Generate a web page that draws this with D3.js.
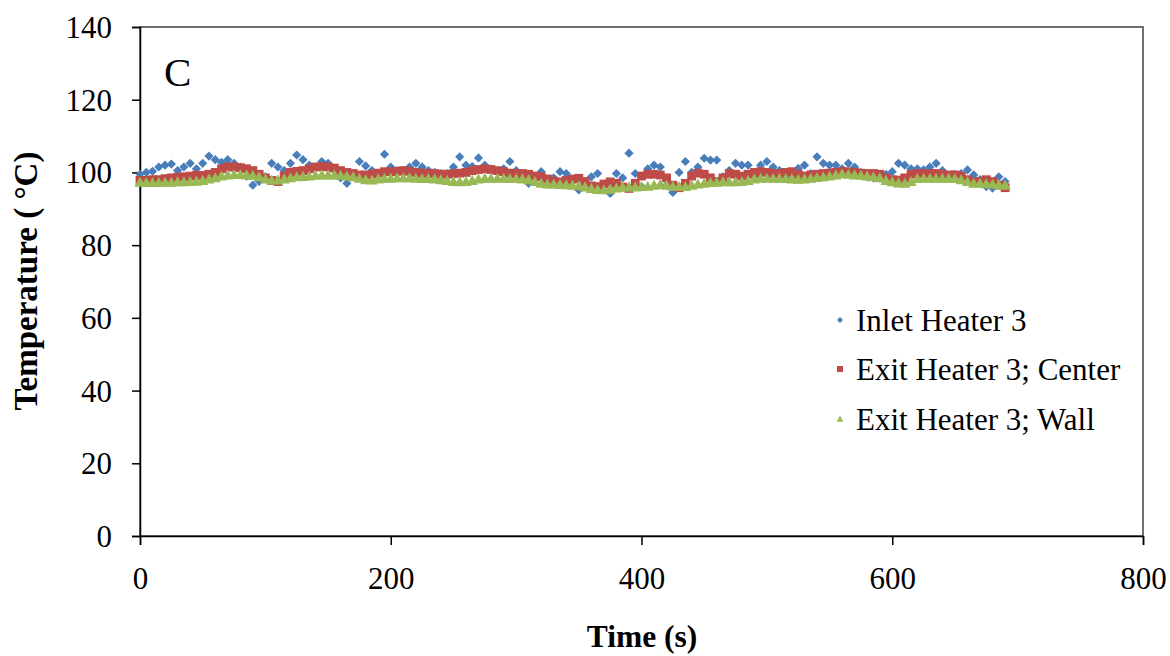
<!DOCTYPE html>
<html>
<head>
<meta charset="utf-8">
<script src="https://cdn.jsdelivr.net/npm/d3@7/dist/d3.min.js"></script>
<style>
  html, body { margin: 0; padding: 0; background: #fff; }
  svg { display: block; }
  text { font-family: "Liberation Serif", "Times New Roman", serif; fill: #000; }
</style>
</head>
<body>
<svg id="chart" width="1170" height="656"></svg>
<script>
// ---- data ----
const timeStep = 5;           // seconds between samples
const xTicks = [0, 200, 400, 600, 800];
const yTicks = [0, 20, 40, 60, 80, 100, 120, 140];
const seriesNames = ["Inlet Heater 3", "Exit Heater 3; Center", "Exit Heater 3; Wall"];

const inletHeater3 = [
  99.5, 100, 100.3, 101.5, 102, 102.3, 100.5, 101.5, 102.5, 101,
  102.5, 104.5, 103.5, 102.8, 103.5, 102.5, 101.5, 99, 96.5, 97.5,
  98.8, 102.5, 101.5, 100.5, 102.5, 104.8, 103.5, 102, 101.5, 103,
  102.5, 101, 98.5, 97, 99.5, 103, 101.8, 100.5, 99.8, 105,
  101.5, 100.5, 100.5, 101.5, 102.5, 101.5, 100.5, 100, 99.7, 99.7,
  101.5, 104.3, 102, 101.6, 104, 102, 101, 100.2, 101, 103,
  100.5, 98.5, 97, 98.5, 100.2, 97.5, 98.5, 100.2, 99.7, 97.5,
  95.2, 97.5, 98.8, 99.7, 96.5, 94.2, 99.7, 98.5, 105.3, 99.7,
  96.1, 101, 102, 101.5, 96.5, 94.5, 100, 103, 100, 101.5,
  103.9, 103.4, 103.4, 98.8, 100.5, 102.5, 102, 102, 98.8, 102,
  103, 101.5, 100.5, 98.4, 100, 101.1, 102, 99.7, 104.3, 102.5,
  102, 102, 101, 102.5, 101.5, 100, 98.8, 98.5, 98.4, 99.5,
  100.2, 102.5, 102, 101, 101, 100.7, 101.5, 102.5, 100.5, 99.2,
  99.5, 99.7, 100.7, 99.3, 98, 96.1, 95.7, 98.8, 97.5
];

const exitCenter = [
  97.8, 97.8, 98, 98, 98.3, 98.5, 98.7, 98.8, 99, 99.2,
  99.2, 99.5, 100, 101, 101.5, 101.5, 101.3, 101, 100.5, 99.5,
  98.5, 97.8, 97.5, 99, 100, 100.3, 100.5, 101, 101.5, 101.6,
  101.5, 101.2, 100.5, 100, 99.7, 99.3, 99.3, 99.5, 99.8, 100.2,
  100.2, 100.3, 100.5, 100.3, 100, 99.8, 99.8, 99.7, 99.5, 99.5,
  99.7, 99.8, 100, 100.5, 100.8, 101, 100.8, 100.5, 100.2, 99.8,
  99.7, 99.7, 99.5, 99, 98.8, 98.2, 97.6, 97.4, 97.8, 98.2,
  98.4, 97.5, 96.3, 96.1, 96.8, 97.4, 97, 96, 95.6, 97,
  99, 99.5, 99.5, 99.3, 98.5, 96.5, 95.8, 97, 99, 99.8,
  99.5, 98.5, 97.5, 98.5, 99.7, 99.5, 99, 99.5, 100, 100.2,
  100, 99.7, 99.7, 100, 100.2, 99.5, 99, 99.3, 99.5, 99.7,
  99.8, 100, 100.2, 100.2, 100, 99.8, 99.7, 99.7, 99.5, 98.5,
  98, 97.9, 98.5, 99.5, 99.7, 99.7, 99.7, 99.7, 99.5, 99.3,
  99.3, 99, 98, 97.4, 97.5, 98, 97.5, 96.5, 95.8
];

const exitWall = [
  97.3, 97.2, 97.2, 97.2, 97.3, 97.3, 97.4, 97.4, 97.5, 97.6,
  97.8, 98.2, 98.5, 99, 99.3, 99.4, 99.4, 99.3, 99.2, 98.8,
  98.2, 97.9, 97.9, 98.2, 98.5, 98.8, 98.9, 99, 99.2, 99.3,
  99.3, 99.3, 99.2, 99, 98.8, 98.4, 98, 97.9, 98.2, 98.4,
  98.4, 98.5, 98.5, 98.5, 98.4, 98.3, 98.3, 98.2, 98, 97.8,
  97.5, 97.4, 97.5, 97.8, 98.2, 98.4, 98.4, 98.4, 98.4, 98.3,
  98.3, 98.2, 98, 97.5, 97, 96.8, 96.8, 96.7, 96.6, 96.5,
  96.3, 96, 95.6, 95.3, 95.2, 95.4, 95.7, 96, 96, 96,
  96.1, 96.2, 96.5, 96.7, 96.5, 96.2, 96.1, 96.1, 96.5, 96.8,
  97, 97.2, 97.3, 97.4, 97.4, 97.4, 97.5, 97.8, 98.2, 98.4,
  98.4, 98.4, 98.4, 98.3, 98.2, 98.1, 98.2, 98.4, 98.6, 98.8,
  99, 99.3, 99.6, 99.5, 99.3, 99.2, 99, 98.8, 98.5, 97.8,
  97.4, 97.1, 97, 97.5, 98.3, 98.4, 98.4, 98.4, 98.4, 98.4,
  98.3, 98, 97.5, 97, 97, 96.9, 96.8, 96.6, 96.5
];

const colors = ["#4A7EBB", "#BE4B48", "#98B954"];

// ---- layout ----
const svg = d3.select("#chart");
const L = 140, R = 1143, T = 27, B = 536;
const x = d3.scaleLinear().domain([0, 800]).range([L, R]);
const y = d3.scaleLinear().domain([0, 140]).range([B, T]);

// plot border
svg.append("rect").attr("x", L).attr("y", T).attr("width", R - L).attr("height", B - T)
  .attr("fill", "none").attr("stroke", "#404040").attr("stroke-width", 1.5);

// axes
const yAxis = d3.axisLeft(y).tickValues(yTicks).tickSize(8).tickPadding(20).tickFormat(d3.format("d"));
const xAxis = d3.axisBottom(x).tickValues(xTicks).tickSize(9).tickPadding(22).tickFormat(d3.format("d"));

const gy = svg.append("g").attr("transform", `translate(${L},0)`).call(yAxis);
const gx = svg.append("g").attr("transform", `translate(0,${B})`).call(xAxis);
[gx, gy].forEach(g => {
  g.selectAll("path.domain").attr("stroke", "#000").attr("stroke-width", 1.5);
  g.selectAll(".tick line").attr("stroke", "#000").attr("stroke-width", 1.5);
  g.selectAll(".tick text").style("font-family", "'Liberation Serif', serif").style("font-size", "31px").attr("fill", "#000");
});
gy.selectAll(".tick text").attr("dy", "0.34em");

// axis titles
svg.append("text").attr("x", 642).attr("y", 647).attr("text-anchor", "middle")
  .style("font-size", "31.5px").style("font-weight", "bold").text("Time (s)");
svg.append("text").attr("transform", "translate(37,281) rotate(-90)").attr("text-anchor", "middle")
  .style("font-size", "33px").style("font-weight", "bold").text("Temperature ( °C)");

// panel label
svg.append("text").attr("x", 164).attr("y", 86).style("font-size", "41px").text("C");

// markers
const diamond = s => `M0,${-s}L${s},0L0,${s}L${-s},0Z`;
const square = s => `M${-s},${-s}H${s}V${s}H${-s}Z`;
const triangle = s => `M0,${-s}L${s},${s * 0.8}L${-s},${s * 0.8}Z`;

const series = [
  { values: inletHeater3, shape: diamond(4.6), color: colors[0] },
  { values: exitCenter, shape: square(4.4), color: colors[1] },
  { values: exitWall, shape: triangle(5.6), color: colors[2] }
];

series.forEach(s => {
  svg.append("g").selectAll("path").data(s.values).join("path")
    .attr("d", s.shape)
    .attr("transform", (d, i) => `translate(${x(i * timeStep)},${y(d)})`)
    .attr("fill", s.color);
});

// legend
const legY = [320, 369, 419];
const legShapes = [diamond(3), square(3), triangle(3.5)];
const leg = svg.append("g");
seriesNames.forEach((n, i) => {
  leg.append("path").attr("d", legShapes[i]).attr("transform", `translate(840,${legY[i]})`).attr("fill", colors[i]);
  leg.append("text").attr("x", 856).attr("y", legY[i]).attr("dy", "0.35em").style("font-size", "31px").text(n);
});
</script>
</body>
</html>
